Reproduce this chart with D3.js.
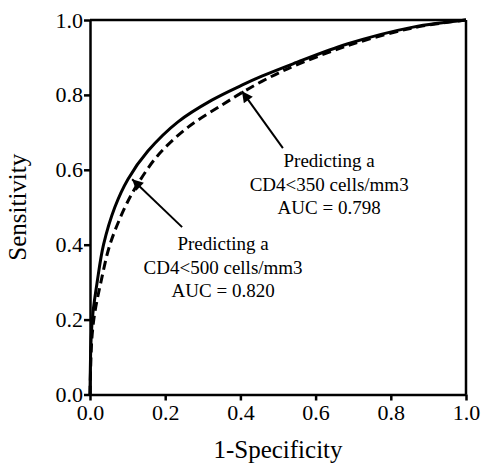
<!DOCTYPE html>
<html>
<head>
  <meta charset="UTF-8">
  <title>ROC curves CD4</title>
  <script src="https://d3js.org/d3.v7.min.js"></script>
  <style>
    body { margin: 0; padding: 0; background: white; }
    svg { display: block; }
    .axis text { font-family: "Liberation Serif", "DejaVu Serif", serif; font-size: 22px; fill: black; }
    .axis path, .axis line { stroke: black; stroke-width: 2.5px; }
    .title { font-family: "Liberation Serif", "DejaVu Serif", serif; font-size: 25px; }
    .note { font-family: "Liberation Serif", "DejaVu Serif", serif; font-size: 19px; }
  </style>
</head>
<body>
  <svg id="chart" width="483" height="463"></svg>
  <script>
    // valeurs
    var ticks = [0, 0.2, 0.4, 0.6, 0.8, 1.0];

    var fpr500 = [0, 0.003, 0.008, 0.019, 0.036, 0.066, 0.101, 0.154, 0.234, 0.324, 0.404, 0.457, 0.540, 0.684, 0.859, 1];
    var tpr500 = [0, 0.150, 0.220, 0.300, 0.400, 0.500, 0.575, 0.650, 0.728, 0.786, 0.826, 0.850, 0.883, 0.936, 0.981, 1];

    var fpr350 = [0, 0.005, 0.013, 0.029, 0.053, 0.093, 0.125, 0.181, 0.261, 0.351, 0.404, 0.457, 0.524, 0.684, 0.859, 1];
    var tpr350 = [0, 0.150, 0.220, 0.300, 0.400, 0.500, 0.559, 0.639, 0.714, 0.773, 0.806, 0.836, 0.869, 0.931, 0.979, 1];

    var notes = [
      { lines: ["Predicting a", "CD4<350 cells/mm3", "AUC = 0.798"], x: 0.636, y: 0.607, from: [0.513, 0.658], to: [0.404, 0.810] },
      { lines: ["Predicting a", "CD4<500 cells/mm3", "AUC = 0.820"], x: 0.354, y: 0.385, from: [0.245, 0.447], to: [0.112, 0.575] }
    ];

    var margin = { top: 20, right: 17, bottom: 68.5, left: 90 };
    var width = 483 - margin.left - margin.right;
    var height = 463 - margin.top - margin.bottom;

    var x = d3.scaleLinear().domain([0, 1]).range([0, width]);
    var y = d3.scaleLinear().domain([0, 1]).range([height, 0]);

    var svg = d3.select("#chart")
      .append("g")
      .attr("transform", "translate(" + margin.left + "," + margin.top + ")");

    svg.append("defs").append("marker")
      .attr("id", "head")
      .attr("viewBox", "0 0 10 10")
      .attr("refX", 10).attr("refY", 5)
      .attr("markerWidth", 14).attr("markerHeight", 11)
      .attr("markerUnits", "userSpaceOnUse")
      .attr("orient", "auto")
      .append("path")
      .attr("d", "M0,0L10,5L0,10Z")
      .attr("fill", "black");

    // cadre haut et droite
    svg.append("line")
      .attr("x1", x(0)).attr("x2", x(1)).attr("y1", y(1)).attr("y2", y(1))
      .attr("stroke", "black").attr("stroke-width", 2.5);
    svg.append("line")
      .attr("x1", x(1)).attr("x2", x(1)).attr("y1", y(1)).attr("y2", y(0))
      .attr("stroke", "black").attr("stroke-width", 2.5);

    svg.append("g")
      .attr("class", "axis")
      .attr("transform", "translate(0," + height + ")")
      .call(d3.axisBottom(x).tickValues(ticks).tickFormat(d3.format(".1f")).tickSize(6).tickSizeOuter(0).tickPadding(4));

    svg.append("g")
      .attr("class", "axis")
      .call(d3.axisLeft(y).tickValues(ticks).tickFormat(d3.format(".1f")).tickSize(6).tickSizeOuter(0).tickPadding(1));

    var line = d3.line()
      .x(d => x(d[0]))
      .y(d => y(d[1]))
      .curve(d3.curveCatmullRom.alpha(0.5));

    svg.append("path")
      .datum(d3.zip(fpr500, tpr500))
      .attr("d", line)
      .attr("fill", "none")
      .attr("stroke", "black")
      .attr("stroke-width", 3);

    svg.append("path")
      .datum(d3.zip(fpr350, tpr350))
      .attr("d", line)
      .attr("fill", "none")
      .attr("stroke", "black")
      .attr("stroke-width", 3)
      .attr("stroke-dasharray", "9,5");

    notes.forEach(function (n) {
      svg.append("line")
        .attr("x1", x(n.from[0])).attr("y1", y(n.from[1]))
        .attr("x2", x(n.to[0])).attr("y2", y(n.to[1]))
        .attr("stroke", "black").attr("stroke-width", 2)
        .attr("marker-end", "url(#head)");

      var t = svg.append("text")
        .attr("class", "note")
        .attr("text-anchor", "middle")
        .attr("x", x(n.x))
        .attr("y", y(n.y));
      t.selectAll("tspan")
        .data(n.lines)
        .enter()
        .append("tspan")
        .attr("x", x(n.x))
        .attr("dy", (d, i) => i === 0 ? 0 : 23.5)
        .text(d => d);
    });

    svg.append("text")
      .attr("class", "title")
      .attr("text-anchor", "middle")
      .attr("x", width / 2)
      .attr("y", height + 63.5)
      .text("1-Specificity");

    svg.append("text")
      .attr("class", "title")
      .attr("text-anchor", "middle")
      .attr("transform", "translate(" + (-64) + "," + (height / 2) + ") rotate(-90)")
      .text("Sensitivity");
  </script>
</body>
</html>
